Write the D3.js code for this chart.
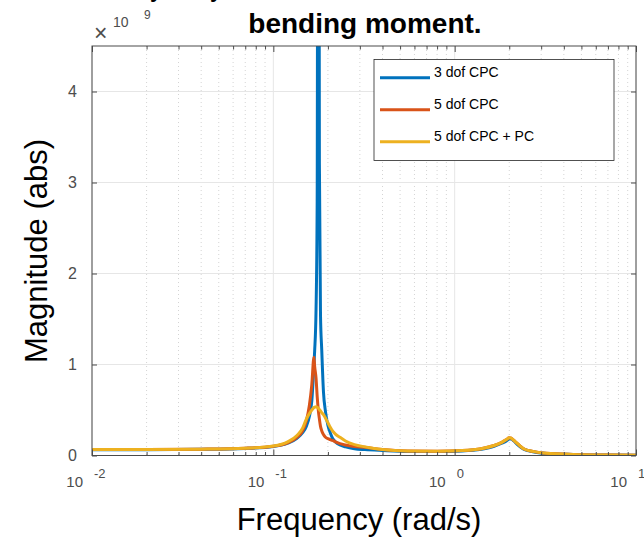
<!DOCTYPE html>
<html>
<head>
<meta charset="utf-8">
<script src="https://cdn.jsdelivr.net/npm/d3@7.9.0/dist/d3.min.js"></script>
<style>
  body { margin: 0; background: #fff; }
  svg { display: block; font-family: "Liberation Sans", Arial, Helvetica, sans-serif; }
</style>
</head>
<body>
<svg id="chart" width="644" height="537"></svg>
<script>
// frequency grid (rad/s), shared by all series
const freq = [0.01, 0.02, 0.04, 0.07, 0.1, 0.12, 0.135, 0.145, 0.152, 0.158, 0.163, 0.1675,
  0.169, 0.172, 0.1745, 0.177, 0.1795, 0.182, 0.185, 0.189, 0.194, 0.2, 0.206, 0.212, 0.22,
  0.233, 0.25, 0.28, 0.32, 0.4, 0.55, 0.8, 1.1, 1.4, 1.65, 1.82, 1.93, 2.0, 2.05, 2.12, 2.22,
  2.4, 2.7, 3.2, 4.5, 7, 10];

// magnitudes, in units of 1e9
const mag3dof = [0.063, 0.064, 0.068, 0.078, 0.1, 0.135, 0.19, 0.25, 0.32, 0.43, 0.6, 1.0,
  1.15, 1.6, 2.8, 12, 3.2, 1.55, 1.15, 0.7, 0.48, 0.33, 0.25, 0.19, 0.15,
  0.115, 0.095, 0.075, 0.065, 0.055, 0.045, 0.044, 0.05, 0.068, 0.1, 0.135, 0.16, 0.18, 0.18, 0.16, 0.12,
  0.07, 0.042, 0.023, 0.011, 0.005, 0.003];

const mag5dof = [0.065, 0.066, 0.07, 0.08, 0.102, 0.14, 0.2, 0.27, 0.38, 0.55, 0.78, 1.08,
  0.98, 0.85, 0.65, 0.5, 0.4, 0.32, 0.27, 0.23, 0.2, 0.185, 0.175, 0.165, 0.15,
  0.13, 0.115, 0.1, 0.09, 0.066, 0.05, 0.048, 0.055, 0.075, 0.11, 0.145, 0.175, 0.195, 0.19, 0.165, 0.13,
  0.075, 0.045, 0.025, 0.012, 0.006, 0.004];

const mag5dofPC = [0.065, 0.066, 0.07, 0.08, 0.105, 0.15, 0.22, 0.3, 0.4, 0.46, 0.5, 0.527,
  0.532, 0.535, 0.53, 0.52, 0.505, 0.49, 0.47, 0.45, 0.41, 0.36, 0.31, 0.27, 0.235,
  0.2, 0.16, 0.12, 0.095, 0.065, 0.05, 0.048, 0.055, 0.075, 0.11, 0.145, 0.175, 0.195, 0.19, 0.165, 0.13,
  0.075, 0.045, 0.025, 0.012, 0.006, 0.004];

const seriesNames = ["3 dof CPC", "5 dof CPC", "5 dof CPC + PC"];
const seriesColors = ["#0072BD", "#D95319", "#EDB120"];
const yTicks = [0, 1, 2, 3, 4];
const xDecades = [-2, -1, 0, 1];

const svg = d3.select("#chart");
const pL = 92, pR = 636, pT = 46, pB = 455.5;

const x = d3.scaleLog().domain([0.01, 10]).range([pL, pR]);
const y = d3.scaleLinear().domain([0, 4.5]).range([pB, pT]);

// minor tick positions: 2..9 in each decade
const minor = [];
xDecades.slice(0, 3).forEach(e => {
  for (let k = 2; k <= 9; k++) minor.push(k * Math.pow(10, e));
});
const major = xDecades.map(e => Math.pow(10, e));

// grid
const grid = svg.append("g");
grid.selectAll(".minor").data(minor).join("line")
  .attr("x1", d => x(d)).attr("x2", d => x(d))
  .attr("y1", pT).attr("y2", pB)
  .attr("stroke", "#d4d4d4").attr("stroke-dasharray", "1,3");
grid.selectAll(".majx").data(major).join("line")
  .attr("x1", d => x(d)).attr("x2", d => x(d))
  .attr("y1", pT).attr("y2", pB)
  .attr("stroke", "#e6e6e6");
grid.selectAll(".majy").data(yTicks).join("line")
  .attr("x1", pL).attr("x2", pR)
  .attr("y1", d => y(d)).attr("y2", d => y(d))
  .attr("stroke", "#e6e6e6");

// data lines
svg.append("clipPath").attr("id", "clip")
  .append("rect").attr("x", pL).attr("y", pT)
  .attr("width", pR - pL).attr("height", pB - pT);

const line = d3.line()
  .x(d => x(d[0]))
  .y(d => y(d[1]))
  .curve(d3.curveMonotoneX);

[mag3dof, mag5dof, mag5dofPC].forEach((m, i) => {
  svg.append("path")
    .datum(freq.map((f, j) => [f, m[j]]))
    .attr("clip-path", "url(#clip)")
    .attr("fill", "none")
    .attr("stroke", seriesColors[i])
    .attr("stroke-width", 3)
    .attr("stroke-linejoin", "round")
    .attr("d", line);
});

// axes (ticks inside)
const axisColor = "#4a4a4a";
const addAxis = (gen, tr) => {
  const g = svg.append("g").attr("transform", tr).call(gen);
  g.selectAll("text").remove();
  g.select(".domain").remove();
  g.selectAll("line").attr("stroke", axisColor);
  return g;
};
addAxis(d3.axisBottom(x).tickValues(minor).tickSize(-3.5).tickFormat(""), `translate(0,${pB})`);
addAxis(d3.axisBottom(x).tickValues(major).tickSize(-6).tickFormat(""), `translate(0,${pB})`);
addAxis(d3.axisTop(x).tickValues(minor).tickSize(-3.5).tickFormat(""), `translate(0,${pT})`);
addAxis(d3.axisTop(x).tickValues(major).tickSize(-6).tickFormat(""), `translate(0,${pT})`);
addAxis(d3.axisLeft(y).tickValues(yTicks).tickSize(-5).tickFormat(""), `translate(${pL},0)`);
addAxis(d3.axisRight(y).tickValues(yTicks).tickSize(-5).tickFormat(""), `translate(${pR},0)`);

svg.append("rect")
  .attr("x", pL).attr("y", pT)
  .attr("width", pR - pL).attr("height", pB - pT)
  .attr("fill", "none").attr("stroke", axisColor).attr("stroke-width", 1);

// tick labels
const labelColor = "#4d4d4d";
svg.append("g").selectAll("text").data(yTicks).join("text")
  .attr("x", pL - 15).attr("y", d => y(d) + 5.5)
  .attr("text-anchor", "end").attr("font-size", 16).attr("fill", labelColor)
  .text(d => d);

const xl = svg.append("g");
xDecades.forEach(e => {
  const px = x(Math.pow(10, e));
  xl.append("text").attr("x", px - 9).attr("y", 487)
    .attr("text-anchor", "end").attr("font-size", 15).attr("fill", labelColor).text("10");
  xl.append("text").attr("x", px + 2).attr("y", 478)
    .attr("font-size", 13).attr("fill", labelColor).text(e);
});

// exponent marker
svg.append("text").attr("x", 94).attr("y", 41).attr("font-size", 23).attr("fill", labelColor).text("\u00d7");
svg.append("text").attr("x", 113).attr("y", 27).attr("font-size", 14).attr("fill", labelColor).text("10");
svg.append("text").attr("x", 144).attr("y", 19).attr("font-size", 12).attr("fill", labelColor).text("9");

// titles (first line is cut off at the top edge)
svg.append("text").attr("x", 56).attr("y", -3)
  .attr("font-size", 22).attr("font-weight", "bold").text("Effect of yaw system on the tower");
svg.append("text").attr("x", 365).attr("y", 33)
  .attr("text-anchor", "middle").attr("font-size", 28).attr("font-weight", "bold")
  .text("bending moment.");

svg.append("text").attr("x", 359).attr("y", 530)
  .attr("text-anchor", "middle").attr("font-size", 31).text("Frequency (rad/s)");
svg.append("text")
  .attr("transform", "translate(47,251) rotate(-90)")
  .attr("text-anchor", "middle").attr("font-size", 31).text("Magnitude (abs)");

// legend
const lg = svg.append("g");
lg.append("rect").attr("x", 374).attr("y", 59.5).attr("width", 240).attr("height", 101)
  .attr("fill", "#fff").attr("stroke", "#262626").attr("stroke-width", 0.8);
seriesNames.forEach((name, i) => {
  const ly = 77.7 + i * 32;
  lg.append("line").attr("x1", 380).attr("x2", 430).attr("y1", ly).attr("y2", ly)
    .attr("stroke", seriesColors[i]).attr("stroke-width", 3);
  lg.append("text").attr("x", 434).attr("y", ly - 1).attr("font-size", 14).text(name);
});
</script>
</body>
</html>
